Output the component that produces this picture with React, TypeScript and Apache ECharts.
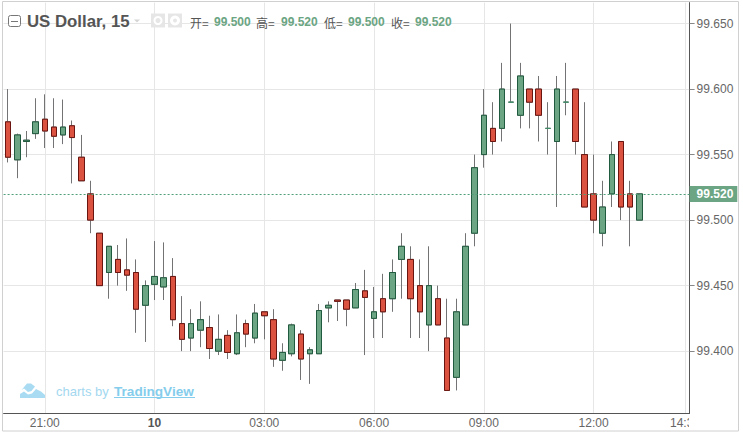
import React, { useEffect, useRef } from "react";
import * as echarts from "echarts";

const categories = [
  "20:00","20:15","20:30","20:45","21:00","21:15","21:30","21:45","22:00","22:15","22:30","22:45",
  "23:00","23:15","23:30","23:45","10","00:15","00:30","00:45","01:00","01:15","01:30","01:45",
  "02:00","02:15","02:30","02:45","03:00","03:15","03:30","03:45","04:00","04:15","04:30","04:45",
  "05:00","05:15","05:30","05:45","06:00","06:15","06:30","06:45","07:00","07:15","07:30","07:45",
  "08:00","08:15","08:30","08:45","09:00","09:15","09:30","09:45","10:00","10:15","10:30","10:45",
  "11:00","11:15","11:30","11:45","12:00","12:15","12:30","12:45","13:00","13:15","13:30","13:45",
  "14:00","14:15","14:30",
];
const labelledTicks = ["21:00","10","03:00","06:00","09:00","12:00","14:30"];
const priceTicks = [99.4, 99.45, 99.5, 99.55, 99.6, 99.65];

const opens = [99.575,99.546,99.56,99.566,99.577,99.571,99.565,99.572,99.548,99.52,99.49,99.46,99.47,99.462,99.46,99.435,99.451,99.449,99.457,99.421,99.41,99.416,99.418,99.4,99.412,99.398,99.421,99.41,99.43,99.424,99.393,99.398,99.413,99.398,99.398,99.433,99.439,99.439,99.433,99.446,99.425,99.44,99.44,99.47,99.47,99.45,99.42,99.44,99.41,99.38,99.42,99.49,99.55,99.57,99.57,99.59,99.58,99.6,99.6,99.57,99.56,99.59,99.6,99.55,99.52,99.49,99.52,99.56,99.52,99.5];
const closes = [99.548,99.565,99.561,99.575,99.568,99.564,99.571,99.563,99.53,99.5,99.45,99.48,99.46,99.458,99.432,99.45,99.457,99.456,99.424,99.409,99.421,99.424,99.402,99.409,99.399,99.414,99.413,99.429,99.427,99.394,99.399,99.42,99.394,99.401,99.431,99.435,99.438,99.432,99.447,99.441,99.43,99.43,99.46,99.48,99.44,99.43,99.45,99.42,99.37,99.43,99.48,99.54,99.58,99.56,99.6,99.59,99.61,99.59,99.58,99.57,99.6,99.59,99.56,99.51,99.5,99.51,99.55,99.51,99.51,99.52];
const lows = [99.544,99.532,99.548,99.562,99.555,99.555,99.558,99.528,99.53,99.49,99.45,99.44,99.45,99.446,99.414,99.407,99.439,99.439,99.419,99.4,99.4,99.403,99.394,99.397,99.394,99.397,99.403,99.406,99.409,99.388,99.385,99.396,99.378,99.375,99.398,99.422,99.423,99.419,99.433,99.397,99.41,99.41,99.43,99.44,99.41,99.41,99.4,99.42,99.37,99.37,99.42,99.48,99.54,99.55,99.56,99.59,99.57,99.57,99.56,99.55,99.51,99.58,99.55,99.51,99.49,99.48,99.51,99.5,99.48,99.5];
const highs = [99.6,99.566,99.568,99.593,99.596,99.593,99.592,99.576,99.565,99.53,99.49,99.48,99.481,99.486,99.47,99.454,99.484,99.483,99.471,99.442,99.432,99.438,99.427,99.428,99.416,99.428,99.424,99.436,99.43,99.432,99.406,99.421,99.416,99.403,99.436,99.438,99.439,99.439,99.452,99.462,99.449,99.459,99.47,99.49,99.48,99.47,99.48,99.45,99.44,99.44,99.49,99.55,99.6,99.59,99.62,99.65,99.62,99.6,99.61,99.59,99.61,99.62,99.6,99.59,99.55,99.53,99.56,99.56,99.53,99.52];

const lastPrice = "99.520";
const titleText = "US Dollar, 15";
const ohlcLegend = [
  { label: "开=", value: "99.500", lx: 190, vx: 214 },
  { label: "高=", value: "99.520", lx: 256, vx: 281 },
  { label: "低=", value: "99.500", lx: 324, vx: 348 },
  { label: "收=", value: "99.520", lx: 391, vx: 415 },
];

const RED = "#db5340", RED_B = "#6b1510", GREEN = "#6ba583", GREEN_B = "#215b3f", WICK = "#737375";
const SANS = '"Liberation Sans", Arial, sans-serif';

export default function App() {
  const ref = useRef<HTMLDivElement>(null);
  useEffect(() => {
    document.body.style.margin = "0";
    const chart = echarts.init(ref.current!, null, { renderer: "svg" });
    const wickData = opens.map((o, i) => [o, closes[i], lows[i], highs[i]]);
    const bodyData = opens.map((o, i) => [o, closes[i], Math.min(o, closes[i]), Math.max(o, closes[i])]);
    const isLabelled = (_: number, v: string) => labelledTicks.includes(v);

    const graphic: any[] = [
      { type: "rect", z: 50, shape: { x: 2.5, y: 1.5, width: 736, height: 429.5 }, style: { fill: "none", stroke: "#d0d0d0", lineWidth: 1 } },
      { type: "rect", z: 40, shape: { x: 689, y: 415, width: 49, height: 15 }, style: { fill: "#fff" } },
      // title bar
      { type: "rect", z: 20, shape: { x: 8.5, y: 15.5, width: 12, height: 11, r: 2 }, style: { fill: "#fff", stroke: "#777", lineWidth: 1 } },
      { type: "line", z: 20, shape: { x1: 11, y1: 21.5, x2: 18, y2: 21.5 }, style: { stroke: "#777", lineWidth: 1 } },
      { type: "text", z: 20, x: 27, y: 21, style: { text: titleText, fill: "#555", font: `bold 16.8px ${SANS}`, verticalAlign: "middle" } },
      { type: "polygon", z: 20, shape: { points: [[134, 19.5], [140, 19.5], [137, 22.5]] }, style: { fill: "#d5d5d5" } },
      { type: "rect", z: 20, shape: { x: 151, y: 13.5, width: 14, height: 14 }, style: { fill: "#e6e6e6" } },
      { type: "ring", z: 21, shape: { cx: 158, cy: 20.5, r: 4.5, r0: 2.5 }, style: { fill: "#fff" } },
      { type: "rect", z: 20, shape: { x: 168, y: 13.5, width: 14, height: 14 }, style: { fill: "#e6e6e6" } },
      { type: "ring", z: 21, shape: { cx: 175, cy: 20.5, r: 5, r0: 2 }, style: { fill: "#fff" } },
      ...ohlcLegend.flatMap((d) => [
        { type: "text", z: 20, x: d.lx, y: 22, style: { text: d.label, fill: "#555", font: '12px "Noto Sans CJK SC", sans-serif', verticalAlign: "middle" } },
        { type: "text", z: 20, x: d.vx, y: 22, style: { text: d.value, fill: GREEN, font: `bold 12px ${SANS}`, verticalAlign: "middle" } },
      ]),
      // watermark
      { type: "polygon", z: 20, shape: { points: [[20, 398], [20, 394], [24, 391.5], [28, 394.5], [32, 393.5], [36, 389], [41, 391.5], [45, 395], [45, 398]] }, style: { fill: "#a9dcf2" } },
      { type: "polygon", z: 20, shape: { points: [[21.5, 390], [27, 383.5], [31, 383.5], [35, 386.5], [31.5, 391], [28, 392], [24, 388.5]] }, style: { fill: "#a9dcf2" } },
      { type: "text", z: 20, x: 56, y: 391, style: { text: "charts by", fill: "#a3d8ef", font: `13px ${SANS}`, verticalAlign: "middle" } },
      { type: "text", z: 20, x: 114, y: 391, style: { text: "TradingView", fill: "#85cdec", font: `bold 13.6px ${SANS}`, verticalAlign: "middle" } },
      { type: "line", z: 20, shape: { x1: 114, y1: 397.5, x2: 195, y2: 397.5 }, style: { stroke: "#85cdec", lineWidth: 1 } },
    ];

    chart.setOption({
      animation: false,
      backgroundColor: "#fff",
      grid: { left: 3.6, top: 2.6, width: 686, height: 410.5, containLabel: false },
      graphic,
      xAxis: {
        type: "category",
        data: categories,
        boundaryGap: true,
        axisLine: { onZero: false, lineStyle: { color: "#555", width: 1 } },
        axisTick: { interval: isLabelled, alignWithLabel: true, length: 4, lineStyle: { color: "#555" } },
        splitLine: { show: true, interval: isLabelled, alignWithLabel: true, lineStyle: { color: "#e6e6e6", width: 1 } },
        axisLabel: {
          interval: isLabelled,
          hideOverlap: false,
          margin: 3.5,
          color: "#666",
          fontFamily: SANS,
          fontSize: 12,
          formatter: (v: string) => (v === "10" ? "{b|10}" : v),
          rich: { b: { fontWeight: "bold", color: "#555", fontFamily: SANS, fontSize: 12 } },
        },
      } as any,
      yAxis: {
        type: "value",
        position: "right",
        scale: true,
        min: 99.3527,
        max: 99.666,
        axisLine: { show: true, lineStyle: { color: "#555", width: 1 } },
        axisTick: { show: true, length: 5, customValues: priceTicks, lineStyle: { color: "#888" } },
        splitLine: { show: true, lineStyle: { color: "#e6e6e6", width: 1 } },
        axisLabel: {
          customValues: priceTicks,
          margin: 7,
          color: "#666",
          fontFamily: SANS,
          fontSize: 12,
          formatter: (v: number) => v.toFixed(3),
        },
      } as any,
      series: [
        {
          name: "wicks",
          type: "candlestick",
          barWidth: 6,
          silent: true,
          data: wickData,
          itemStyle: { color: WICK, color0: WICK, borderColor: WICK, borderColor0: WICK, borderColorDoji: WICK, borderWidth: 1 },
        },
        {
          name: "US Dollar",
          type: "candlestick",
          barWidth: 6,
          data: bodyData,
          itemStyle: { color: GREEN, color0: RED, borderColor: GREEN_B, borderColor0: RED_B, borderColorDoji: "#3f8f68", borderWidth: 1 },
          markLine: {
            silent: true,
            symbol: "none",
            lineStyle: { color: "#4f9f78", type: [2, 2], width: 1 },
            label: {
              position: "end",
              distance: 0,
              formatter: lastPrice,
              color: "#fff",
              fontFamily: SANS,
              fontWeight: "bold",
              fontSize: 12,
              lineHeight: 16,
              backgroundColor: GREEN,
              padding: [0, 4, 0, 7],
            },
            data: [{ yAxis: Number(lastPrice) }],
          },
        },
      ],
    });
    return () => chart.dispose();
  }, []);
  return <div ref={ref} style={{ width: 743, height: 432 }} />;
}
